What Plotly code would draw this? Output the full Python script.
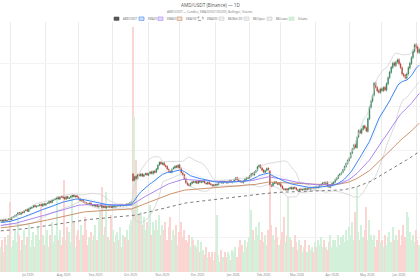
import pandas as pd
import plotly.graph_objects as go

# ---------------- data ----------------
# closes before the visible window (only used to warm up the indicators)
warmup_close = [112.3, 113.8, 112.9, 114.6, 115.2, 114.1, 115.9, 116.7, 115.8, 117.3,
                116.2, 118.0, 117.4, 116.5, 118.6, 119.2, 118.1, 117.5, 119.0, 118.3]

# daily (business day) closes, one row per week, from 2025-06-23
close = [
    119.5, 117.8, 120.2, 118.9, 119.4,
    121.0, 120.1, 122.6, 123.4, 124.5,
    125.8, 127.9, 126.4, 128.6, 127.7,
    130.2, 131.5, 129.8, 132.7, 133.6,
    134.1, 136.2, 134.8, 135.5, 136.0,
    137.4, 135.9, 138.1, 137.0, 138.4,
    139.0, 141.2, 139.8, 142.5, 142.9,
    144.1, 145.7, 143.9, 146.3, 146.0,
    145.2, 143.8, 146.4, 144.6, 145.1,
    146.8, 148.0, 146.5, 147.3, 146.2,
    143.9, 141.7, 142.3, 140.1, 139.5,
    138.2, 137.6, 139.0, 136.4, 136.9,
    135.8, 137.1, 134.9, 135.6, 136.0,
    134.2, 135.5, 133.8, 134.9, 134.6,
    135.3, 134.1, 136.0, 134.7, 135.2,
    136.4, 135.8, 137.2, 136.1, 137.0,
    136.5, 138.2, 137.4, 139.6, 140.8,
    164.9, 169.5, 167.2, 171.8, 170.6,
    172.4, 170.1, 171.6, 173.0, 171.4,
    172.8, 174.9, 173.1, 175.6, 174.2,
    178.4, 182.6, 185.9, 184.1, 185.3,
    182.7, 181.0, 178.2, 175.4, 174.6,
    177.9, 179.8, 181.5, 180.2, 182.7,
    178.8, 174.1, 171.5, 166.9, 162.4,
    160.2, 159.1, 161.8, 163.5, 162.9,
    163.8, 162.0, 164.4, 163.1, 163.6,
    164.1, 162.5, 161.3, 162.8, 161.0,
    160.4, 158.9, 160.1, 159.6, 160.8,
    162.6, 163.9, 162.1, 164.0, 163.3,
    162.4, 163.8, 164.9, 163.0, 163.5,
    166.2, 168.1, 165.9, 164.2, 163.4,
    162.8, 164.5, 166.7, 168.3, 167.5,
    170.4, 172.9, 171.6, 174.8, 176.3,
    180.9, 182.4, 179.6, 176.8, 174.5,
    176.2, 178.9, 177.4, 160.1, 158.2,
    161.9, 163.4, 162.0, 160.7, 161.5,
    158.4, 155.9, 154.6, 155.2, 154.0,
    155.8, 156.9, 155.4, 157.1, 156.2,
    154.5, 153.9, 155.1, 154.3, 154.8,
    155.6, 154.7, 156.2, 155.3, 156.0,
    156.8, 155.9, 157.4, 156.6, 157.9,
    159.2, 160.8, 162.5, 161.4, 163.0,
    158.6, 157.4, 159.8, 161.9, 163.5,
    166.2, 168.0, 170.9, 172.6, 174.1,
    177.5, 181.2, 184.6, 188.3, 190.9,
    196.8, 201.5, 205.9, 203.1, 214.6,
    222.4, 219.7, 224.1, 227.6, 225.3,
    221.8, 236.0, 249.5, 256.3, 262.8,
    276.8, 272.3, 268.0, 266.4, 270.2,
    268.5, 271.9, 269.2, 276.4, 283.0,
    289.6, 295.2, 299.8, 297.4, 300.9,
    303.6, 299.2, 294.8, 287.5, 285.6,
    282.9, 287.4, 294.6, 299.8, 306.1,
    313.8, 320.7, 318.2, 312.5, 315.6,
]

open_ = [
    118.6, 119.8, 117.6, 120.4, 118.7,
    119.9, 121.3, 119.8, 122.9, 123.1,
    124.2, 125.5, 128.3, 126.1, 128.9,
    128.1, 130.5, 131.8, 129.5, 132.4,
    133.2, 134.4, 136.5, 134.6, 135.8,
    136.3, 137.7, 135.6, 138.4, 136.8,
    138.7, 138.8, 141.5, 139.6, 142.2,
    143.2, 143.8, 146.0, 143.6, 146.5,
    146.3, 145.5, 143.5, 146.7, 144.3,
    145.4, 146.5, 148.3, 146.2, 147.6,
    145.9, 144.2, 141.4, 142.6, 140.4,
    139.8, 138.5, 137.3, 139.3, 136.1,
    137.2, 135.5, 137.4, 134.6, 135.9,
    136.3, 133.9, 135.8, 133.5, 135.2,
    134.3, 135.6, 133.8, 136.3, 134.4,
    135.5, 136.7, 135.5, 137.5, 135.8,
    137.3, 136.2, 138.5, 137.1, 139.3,
    172.6, 165.2, 169.8, 166.9, 172.1,
    170.3, 172.7, 169.8, 171.9, 173.3,
    171.1, 173.1, 175.2, 172.8, 175.9,
    174.5, 178.1, 182.9, 186.2, 183.8,
    185.6, 182.4, 181.3, 177.9, 175.7,
    174.3, 178.2, 179.5, 181.8, 179.9,
    183.0, 179.1, 173.8, 171.8, 167.2,
    162.1, 160.5, 158.8, 161.5, 163.8,
    162.6, 164.1, 161.7, 164.7, 162.8,
    163.3, 164.4, 162.2, 161.0, 163.1,
    161.3, 160.1, 158.6, 160.4, 159.3,
    160.5, 162.9, 164.2, 161.8, 164.3,
    163.6, 162.1, 163.5, 165.2, 162.7,
    163.8, 165.9, 168.4, 165.6, 164.5,
    163.1, 162.5, 164.2, 166.4, 168.6,
    167.8, 170.1, 173.2, 171.3, 174.5,
    176.6, 180.6, 182.7, 179.3, 177.1,
    174.2, 176.5, 179.2, 176.1, 159.8,
    158.5, 161.6, 163.7, 161.7, 160.4,
    161.2, 158.7, 155.6, 154.3, 155.5,
    154.3, 155.5, 157.2, 155.1, 157.4,
    156.5, 154.2, 153.6, 155.4, 154.0,
    154.5, 155.9, 154.4, 156.5, 155.0,
    155.7, 157.1, 155.6, 157.7, 156.3,
    157.6, 158.9, 160.5, 162.8, 161.1,
    163.3, 158.9, 157.1, 159.5, 161.6,
    163.2, 165.9, 167.7, 171.2, 172.3,
    174.4, 177.2, 180.9, 184.3, 188.0,
    191.2, 196.5, 201.2, 206.2, 202.8,
    214.9, 222.7, 219.4, 223.8, 227.9,
    225.6, 221.5, 235.7, 249.2, 256.0,
    263.1, 277.1, 272.0, 268.3, 266.1,
    270.5, 268.2, 272.2, 268.9, 276.1,
    283.3, 289.3, 294.9, 300.1, 297.1,
    301.2, 303.9, 298.9, 294.5, 287.2,
    285.9, 282.6, 287.1, 294.3, 299.5,
    306.4, 313.5, 321.0, 318.5, 312.2,
]

volume = [
    10, 13, 8, 14, 11,    15, 28, 10, 13, 17,   12, 22, 15, 9, 13,
    17, 11, 14, 19, 10,   13, 16, 10, 15, 18,   13, 26, 15, 11, 14,
    17, 10, 15, 20, 12,   15, 30, 13, 17, 11,   14, 37, 13, 18, 16,
    12, 31, 20, 10, 15,   17, 13, 19, 15, 22,   17, 11, 14, 16, 13,
    15, 19, 13, 21, 25,   34, 15, 18, 32, 14,   13, 23, 17, 12, 15,
    16, 13, 18, 10, 15,   14, 17, 13, 19, 21,   98, 62, 45, 28, 23,
    24, 19, 22, 17, 20,   18, 27, 15, 20, 17,   21, 17, 23, 15, 19,
    17, 20, 13, 18, 22,   13, 17, 15, 19, 11,   16, 20, 14, 17, 13,
    12, 15, 10, 14, 13,   11, 10, 13, 8, 12,    9, 7, 10, 6, 8,
    6, 8, 5, 8, 23,       7, 4, 9, 6, 8,        6, 8, 7, 5, 9,
    8, 10, 6, 10, 13,     11, 8, 13, 10, 12,    14, 25, 17, 13, 18,
    15, 20, 13, 16, 12,   15, 11, 17, 36, 19,   15, 13, 18, 14, 11,
    13, 16, 22, 12, 15,   30, 14, 13, 10, 15,   12, 9, 13, 11, 8,
    10, 13, 8, 11, 9,     10, 8, 12, 10, 13,    11, 14, 10, 13, 10,
    9, 12, 15, 10, 13,    13, 10, 15, 11, 14,   15, 12, 17, 13, 18,
    15, 20, 13, 24, 34,   16, 13, 19, 14, 17,   26, 13, 21, 15, 13,
    15, 10, 13, 17, 12,   13, 10, 15, 11, 14,   16, 12, 18, 13, 15,
    13, 17, 11, 15, 19,   14, 24, 22, 16, 13,   15, 12, 17, 13, 11,
]

# EMA values just before the warm-up window
ema_seed = {20: 111.5, 50: 108.8, 100: 107.5, 200: 105.0}

title_text = "AMD/USDT (Binance) — 1D"
subtitle_text = "AMD/USDT — Candles, EMA20/50/100/200, Bollinger, Volume"

# ---------------- derived series ----------------
dates = pd.bdate_range("2025-06-23", periods=len(close))
n0 = len(warmup_close)
all_close = pd.Series(warmup_close + close)

def ema(vals, span, seed):
    a = 2.0 / (span + 1)
    out, e = [], seed
    for v in vals:
        e = a * v + (1 - a) * e
        out.append(e)
    return out[n0:]

mid = all_close.rolling(20, min_periods=5).mean()
sd = all_close.rolling(20, min_periods=5).std(ddof=0)
bb_mid = list(mid)[n0:]
bb_up = list(mid + 2 * sd)[n0:]
bb_lo = list(mid - 2 * sd)[n0:]

high = [max(o, c) * 1.006 for o, c in zip(open_, close)]
low = [min(o, c) * 0.994 for o, c in zip(open_, close)]

UP, DOWN = "#2f7d52", "#b03a2e"
vol_colors = ["#d3f0db" if c >= o else "#fbd5d1" for o, c in zip(open_, close)]

fig = go.Figure()
fig.add_trace(go.Bar(x=dates, y=volume, marker=dict(color=vol_colors, line=dict(width=0)),
                     name="Volume", yaxis="y", showlegend=False))
line_specs = [
    ("BB Lower", bb_lo, "#d2d2d2", 0.8, "solid"),
    ("BB Upper", bb_up, "#d2d2d2", 0.8, "solid"),
    ("BB Mid (20)", bb_mid, "#e6e6e6", 0.6, "solid"),
    ("EMA200", ema(all_close, 200, ema_seed[200]), "#5a5a5a", 0.8, "dot"),
    ("EMA100", ema(all_close, 100, ema_seed[100]), "#c4875d", 0.9, "solid"),
    ("EMA50", ema(all_close, 50, ema_seed[50]), "#a27af0", 0.9, "solid"),
    ("EMA20", ema(all_close, 20, ema_seed[20]), "#3d86f5", 1.0, "solid"),
]
for name, ys, col, w, dash in line_specs:
    fig.add_trace(go.Scatter(x=dates, y=ys, mode="lines", name=name, yaxis="y2",
                             line=dict(color=col, width=w, dash=dash), showlegend=False))
fig.add_trace(go.Candlestick(x=dates, open=open_, high=high, low=low, close=close,
                             name="AMD/USDT", yaxis="y2", showlegend=False, whiskerwidth=0,
                             increasing=dict(line=dict(color=UP, width=0.5), fillcolor=UP),
                             decreasing=dict(line=dict(color=DOWN, width=0.5), fillcolor=DOWN)))

# ---------------- legend row (paper coordinates) ----------------
legend_items = [
    ("AMD/USDT", "#555555", "#555555", "solid"),
    ("EMA20", "#3d86f5", "#d3e3fd", "solid"),
    ("EMA50", "#a27af0", "#e7ddfc", "solid"),
    ("EMA100", "#c4875d", "#f2e3d8", "solid"),
    ("EMA200", "#555555", "#ffffff", "dot"),
    ("BB Mid (20)", "#cfcfcf", "#ededed", "solid"),
    ("BB Upper", "#cfcfcf", "#ededed", "solid"),
    ("BB Lower", "#cfcfcf", "#ededed", "solid"),
    ("Volume", "#bfe6cb", "#d5f0dd", "solid"),
]
swatch_px = [114, 139, 158, 177, 198, 219, 244, 267, 289]
W, TOP, BOT = 420.0, 22.0, 272.0
H = BOT - TOP
def py(px_y):
    return (BOT - px_y) / H

shapes, annos = [], []
for (name, lc, fc, dash), sx in zip(legend_items, swatch_px):
    shapes.append(dict(type="rect", xref="paper", yref="paper",
                       x0=sx / W, x1=(sx + 5) / W, y0=py(20.4), y1=py(17.0),
                       line=dict(color=lc, width=0.6, dash=dash), fillcolor=fc))
    annos.append(dict(text=name, xref="paper", yref="paper", x=(sx + 6.5) / W, y=py(18.7),
                      xanchor="left", yanchor="middle", showarrow=False,
                      font=dict(size=2.7, color="#666")))
annos.append(dict(text=title_text, xref="paper", yref="paper", x=0.5, y=py(5.5),
                  xanchor="center", yanchor="middle", showarrow=False,
                  font=dict(size=4.7, color="#555")))
annos.append(dict(text=subtitle_text, xref="paper", yref="paper", x=0.5, y=py(12.3),
                  xanchor="center", yanchor="middle", showarrow=False,
                  font=dict(size=3.0, color="#777")))

fig.update_layout(
    width=420, height=280,
    margin=dict(l=0, r=0, t=22, b=8),
    paper_bgcolor="white", plot_bgcolor="white",
    font=dict(family="Open Sans, Liberation Sans, sans-serif"),
    showlegend=False, bargap=0,
    shapes=shapes, annotations=annos,
    xaxis=dict(type="date", range=["2025-06-20 12:00", "2026-07-03 12:00"],
               rangebreaks=[dict(bounds=["sat", "mon"])],
               dtick="M1", tick0="2025-07-01", ticklabelmode="period", tickformat="%b %Y",
               showgrid=True, gridcolor="#ebebeb", gridwidth=0.6, ticks="",
               tickfont=dict(size=3.2, color="#888"), showline=False, zeroline=False,
               rangeslider=dict(visible=False)),
    yaxis=dict(range=[0, 100], visible=False, showgrid=False, fixedrange=True),
    yaxis2=dict(overlaying="y", side="right", range=[59.9, 347.2], showticklabels=False,
                showgrid=True, gridcolor="#f3f3f3", gridwidth=0.6, dtick=50, tick0=0,
                zeroline=False, ticks=""),
)

fig.write_html("out.html")
